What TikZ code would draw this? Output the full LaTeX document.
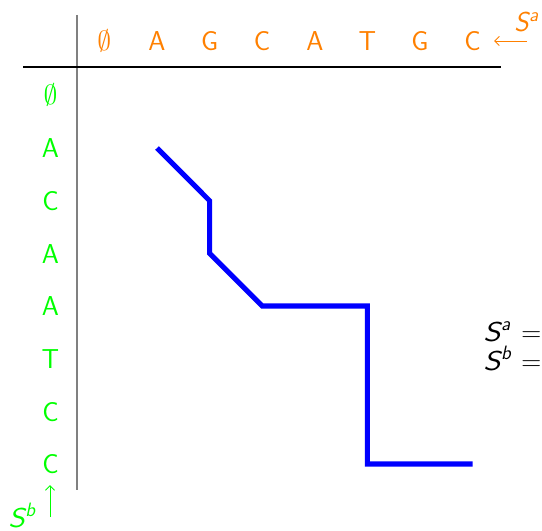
\documentclass[tikz,border=0pt]{standalone}
\usetikzlibrary{arrows.meta}
\newcommand\mySsym[2][1]{{\sffamily\slshape\scalebox{#1}[1]{S}\kern0.5pt\raisebox{7.8pt}{\fontsize{14.5}{17}\selectfont #2}}}
\begin{document}
\begin{tikzpicture}[x=0.75pt,y=-0.75pt,
  lbl/.style={anchor=base,inner sep=0pt,font=\fontsize{20.5}{24}\selectfont\sffamily},
  toplbl/.style={lbl,text=orange},
  sidelbl/.style={lbl,text=green},
  blackbl/.style={anchor=base west,inner sep=0pt,font=\fontsize{20.5}{24}\selectfont\sffamily},
  pathline/.style={blue,line width=3.8pt,line join=miter},
  thinarrow/.style={line width=0.7pt,-{Straight Barb[length=3.5pt,width=7pt]}}]
\useasboundingbox (0,0) rectangle (542,531);
\clip (0,0) rectangle (542,531);
% grid lines
\coordinate (vt) at (77,15);
\coordinate (vb) at (77,490);
\coordinate (hl) at (23,67);
\coordinate (hr) at (501,67);
\draw[gray,line width=1.5pt] (vt) -- (vb);
\draw[black,line width=0.9pt] (hl) -- (hr);
% header
\foreach \t [count=\i from 0] in {$\emptyset$,A,G,C,A,T,G,C}
  \node[toplbl] (h\i) at ({104.4+52.6*\i},50.5) {\t};
% side
\foreach \t [count=\j from 0] in {$\emptyset$,A,C,A,A,T,C,C}
  \node[sidelbl] (s\j) at (50.5,{95.5+52.67*\j+9.5}) {\t};
% arrows and labels
\coordinate (ast) at (527,41);
\coordinate (aen) at (494,41);
\draw[orange,thinarrow] (ast) -- (aen);
\node[lbl,text=orange,anchor=base west] (Sa) at (514,32) {\mySsym{a}};
\coordinate (bst) at (50,517);
\coordinate (ben) at (50,485);
\draw[green,thinarrow] (bst) -- (ben);
\node[lbl,text=green,anchor=base west] (Sb) at (8,527) {\mySsym[1.15]{b}};
% right text
\node[blackbl] (ra) at (483,341) {\mySsym[1.2]{a}\hspace{8.5pt}$=$};
\node[blackbl] (rb) at (483,370) {\mySsym[1.2]{b}\hspace{8pt}$=$};
% path
\coordinate (p1) at (157,148);
\coordinate (p2) at (209.6,200.7);
\coordinate (p3) at (209.6,253.3);
\coordinate (p4) at (262.2,306);
\coordinate (p5) at (367.4,306);
\coordinate (p6) at (367.4,464);
\coordinate (p7) at (472.6,464);
\draw[pathline] (p1) -- (p2) -- (p3) -- (p4) -- (p5) -- (p6) -- (p7);
\end{tikzpicture}
\end{document}
